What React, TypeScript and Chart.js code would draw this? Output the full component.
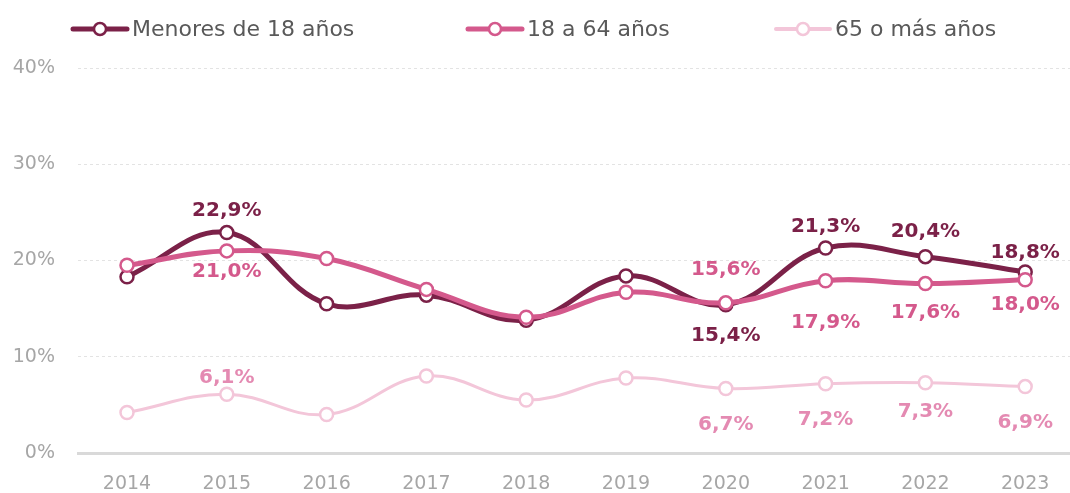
import { useEffect, useRef } from "react";
import { Chart, registerables } from "chart.js";
Chart.register(...registerables);

const years = ["2014", "2015", "2016", "2017", "2018", "2019", "2020", "2021", "2022", "2023"];
const seriesNames = ["Menores de 18 años", "18 a 64 años", "65 o más años"];
const menores = [18.3, 22.9, 15.5, 16.4, 13.8, 18.4, 15.4, 21.3, 20.4, 18.8];
const adultos = [19.5, 21.0, 20.2, 17.0, 14.1, 16.7, 15.6, 17.9, 17.6, 18.0];
const mayores = [4.2, 6.1, 4.0, 8.0, 5.5, 7.8, 6.7, 7.2, 7.3, 6.9];
const yTickValues = [0, 10, 20, 30, 40];

// label placement (layout): vertical offset from the point, null = no label
const menoresLabelDy = [null, -22, null, null, null, null, 31, -21, -25, -19];
const adultosLabelDy = [null, 21, null, null, null, null, -33, 42, 29, 25];
const mayoresLabelDy = [null, -16, null, null, null, null, 36, 36, 29, 36];

const colors = ["#7B2148", "#D4598C", "#F3C6D9"];
const labelColors = ["#7B2148", "#D4598C", "#E48AB2"];
const lineWidths = [5, 5, 3];
const legendX = [73, 468, 776];

const fmt = (v: number) => v.toFixed(1).replace(".", ",") + "%";

export default function App() {
  const ref = useRef<HTMLCanvasElement>(null);
  useEffect(() => {
    const ctx = ref.current!;
    const allDy = [menoresLabelDy, adultosLabelDy, mayoresLabelDy];
    const labelPlugin = {
      id: "labels",
      afterDatasetsDraw(chart: any) {
        const c = chart.ctx;
        c.save();
        c.font = "bold 20px 'DejaVu Sans'";
        c.textAlign = "center";
        c.textBaseline = "middle";
        chart.data.datasets.forEach((ds: any, di: number) => {
          const meta = chart.getDatasetMeta(di);
          meta.data.forEach((pt: any, i: number) => {
            const dy = allDy[di][i];
            if (dy === null) return;
            c.fillStyle = labelColors[di];
            c.fillText(fmt(ds.data[i].y), pt.x, pt.y + dy);
          });
        });
        c.restore();
      },
    };
    const legendPlugin = {
      id: "customLegend",
      afterDraw(chart: any) {
        const c = chart.ctx;
        c.save();
        const y = 29;
        seriesNames.forEach((name, i) => {
          const x0 = legendX[i];
          c.strokeStyle = colors[i];
          c.lineWidth = i === 2 ? 4 : 5;
          c.lineCap = "round";
          c.beginPath();
          c.moveTo(x0, y);
          c.lineTo(x0 + 54, y);
          c.stroke();
          c.beginPath();
          c.arc(x0 + 27, y, 6, 0, Math.PI * 2);
          c.fillStyle = "#fff";
          c.fill();
          c.lineWidth = 2.5;
          c.stroke();
          c.fillStyle = "#595959";
          c.font = "22px 'DejaVu Sans'";
          c.textAlign = "left";
          c.textBaseline = "middle";
          c.fillText(name, x0 + 59, y + 1);
        });
        c.restore();
      },
    };
    const mk = (arr: number[]) => arr.map((v, i) => ({ x: i, y: v }));
    const chart = new Chart(ctx, {
      type: "line",
      data: {
        datasets: [menores, adultos, mayores].map((arr, i) => ({
          label: seriesNames[i],
          data: mk(arr),
          borderColor: colors[i],
          backgroundColor: "#fff",
          borderWidth: lineWidths[i],
          tension: 0.4,
          pointRadius: 6.5,
          pointBorderWidth: 2.5,
          pointBackgroundColor: "#fff",
          pointBorderColor: colors[i],
          order: 3 - i,
          clip: false,
        })),
      },
      options: {
        animation: false,
        responsive: false,
        layout: { autoPadding: false, padding: { top: 68, left: 0, right: 0, bottom: 0 } },
        plugins: { legend: { display: false }, tooltip: { enabled: false } },
        scales: {
          x: {
            type: "linear",
            min: -0.491,
            max: 9.449,
            afterBuildTicks: (s: any) => {
              s.ticks = years.map((_, i) => ({ value: i }));
            },
            afterFit: (s: any) => {
              s.height = 40;
            },
            ticks: {
              callback: (v: any) => years[v as number],
              color: "#A6A6A6",
              font: { family: "'DejaVu Sans'", size: 19 },
              padding: 20,
              maxRotation: 0,
              autoSkip: false,
            },
            grid: { display: false, drawTicks: false },
            border: { display: true, color: "#D9D9D9", width: 3 },
          },
          y: {
            min: 0,
            max: 40,
            afterBuildTicks: (s: any) => {
              s.ticks = yTickValues.map((v) => ({ value: v }));
            },
            afterFit: (s: any) => {
              s.width = 78;
            },
            ticks: {
              callback: (v: any) => v + "%",
              color: "#A6A6A6",
              font: { family: "'DejaVu Sans'", size: 19 },
              padding: 23,
            },
            grid: { color: "#E3E3E3", lineWidth: 1, drawTicks: false },
            border: { display: false, dash: [3, 3] },
          },
        },
      },
      plugins: [labelPlugin, legendPlugin],
    } as any);
    return () => chart.destroy();
  }, []);
  return (
    <div style={{ position: "absolute", left: 0, top: 0, width: 1070, height: 493, background: "#fff" }}>
      <canvas ref={ref} width={1070} height={493} />
    </div>
  );
}
